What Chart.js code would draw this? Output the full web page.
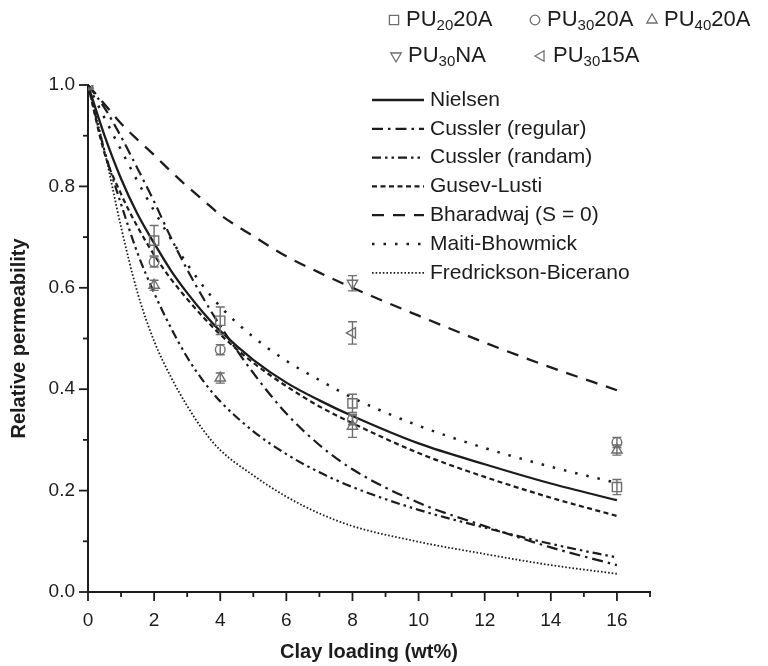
<!DOCTYPE html>
<html><head><meta charset="utf-8">
<script src="https://cdn.jsdelivr.net/npm/chart.js@4.4.1/dist/chart.umd.min.js"></script>
<style>html,body{margin:0;padding:0;background:#fff;}#wrap{width:768px;height:666px;position:relative;}</style>
</head><body><div id="wrap"><canvas id="c" width="768" height="666"></canvas></div>
<script>
// ---- data ----
const modelX      = [0, 0.5, 1, 1.5, 2, 2.5, 3, 3.5, 4, 5, 6, 7, 8, 10, 12, 14, 16];
const nielsen     = [1, 0.900, 0.815, 0.745, 0.688, 0.635, 0.590, 0.550, 0.515, 0.458, 0.413, 0.378, 0.347, 0.293, 0.252, 0.214, 0.181];
const cusslerReg  = [1, 0.955, 0.898, 0.835, 0.770, 0.700, 0.636, 0.578, 0.525, 0.432, 0.352, 0.290, 0.242, 0.176, 0.130, 0.088, 0.053];
const cusslerRand = [1, 0.870, 0.765, 0.668, 0.590, 0.522, 0.463, 0.415, 0.376, 0.317, 0.272, 0.236, 0.207, 0.162, 0.127, 0.095, 0.068];
const gusevLusti  = [1, 0.865, 0.785, 0.720, 0.665, 0.618, 0.578, 0.541, 0.508, 0.452, 0.406, 0.366, 0.333, 0.274, 0.227, 0.186, 0.150];
const bharadwaj   = [1, 0.962, 0.924, 0.892, 0.862, 0.830, 0.800, 0.772, 0.744, 0.702, 0.662, 0.630, 0.600, 0.545, 0.492, 0.443, 0.398];
const maiti       = [1, 0.935, 0.872, 0.810, 0.752, 0.697, 0.647, 0.602, 0.563, 0.503, 0.456, 0.418, 0.383, 0.328, 0.284, 0.247, 0.215];
const fredrickson = [1, 0.870, 0.720, 0.590, 0.495, 0.425, 0.367, 0.318, 0.280, 0.230, 0.188, 0.155, 0.130, 0.099, 0.075, 0.053, 0.036];

const loadX   = [0, 2, 4, 8, 16];
const pu20    = [1, 0.693, 0.535, 0.372, 0.207];
const pu20Err = [0, 0.030, 0.027, 0.018, 0.015];
const pu30    = [1, 0.651, 0.478, 0.340, 0.295];
const pu30Err = [0, 0.010, 0.010, 0.010, 0.010];
const pu40    = [1, 0.605, 0.422, 0.327, 0.280];
const pu40Err = [0, 0.010, 0.010, 0.022, 0.010];
const naX = [8];  const pu30NA  = [0.609]; const pu30NAErr  = [0.015];
const a15X = [8]; const pu3015A = [0.511]; const pu3015AErr = [0.022];

const xTickValues = [0, 2, 4, 6, 8, 10, 12, 14, 16];
const yTickValues = [0.0, 0.2, 0.4, 0.6, 0.8, 1.0];

const curveLabels  = ['Nielsen', 'Cussler (regular)', 'Cussler (randam)', 'Gusev-Lusti', 'Bharadwaj (S = 0)', 'Maiti-Bhowmick', 'Fredrickson-Bicerano'];
const markerLabels = ['PU_{20}20A', 'PU_{30}20A', 'PU_{40}20A', 'PU_{30}NA', 'PU_{30}15A'];

// ---- styling ----
const FONT = "'Liberation Sans', Arial, Helvetica, sans-serif";
const INK = '#1c1c1c';
const MARK = '#6e6e6e';

function curve(label, ys, dash, width, cap) {
  return {type: 'line', label, data: modelX.map((x, i) => ({x, y: ys[i]})),
    borderColor: INK, borderWidth: width, borderDash: dash, borderCapStyle: cap || 'butt',
    pointRadius: 0, fill: false, cubicInterpolationMode: 'monotone', order: 2};
}
function markers(label, xs, ys, errs, style, rot, r) {
  return {type: 'scatter', label, data: xs.map((x, i) => ({x, y: ys[i]})), errs,
    pointStyle: style, rotation: rot, radius: r, pointRadius: r, pointHoverRadius: r,
    borderColor: MARK, pointBorderColor: MARK, borderWidth: 1.4, pointBorderWidth: 1.4,
    backgroundColor: 'rgba(255,255,255,0)', pointBackgroundColor: 'rgba(255,255,255,0)', order: 1};
}

const curveSets = [
  curve(curveLabels[0], nielsen, [], 2.3),
  curve(curveLabels[1], cusslerReg, [11, 5, 2.5, 5], 2.2),
  curve(curveLabels[2], cusslerRand, [9, 4, 2.5, 4, 2.5, 4], 2.2),
  curve(curveLabels[3], gusevLusti, [5, 3.5], 2.2),
  curve(curveLabels[4], bharadwaj, [12, 9], 2.3),
  curve(curveLabels[5], maiti, [2.5, 9], 2.5),
  curve(curveLabels[6], fredrickson, [1.6, 2], 1.8)
];
const markerSets = [
  markers(markerLabels[0], loadX, pu20, pu20Err, 'rect', 0, 6.5),
  markers(markerLabels[1], loadX, pu30, pu30Err, 'circle', 0, 4.8),
  markers(markerLabels[2], loadX, pu40, pu40Err, 'triangle', 0, 6),
  markers(markerLabels[3], naX, pu30NA, pu30NAErr, 'triangle', 180, 6),
  markers(markerLabels[4], a15X, pu3015A, pu3015AErr, 'triangle', -90, 6)
];

function drawMarker(ctx, style, rot, x, y, r) {
  ctx.beginPath();
  if (style === 'circle') { ctx.arc(x, y, r, 0, Math.PI * 2); }
  else if (style === 'rect') { const s = r * Math.SQRT1_2; ctx.rect(x - s, y - s, 2 * s, 2 * s); }
  else {
    let rad = rot * Math.PI / 180;
    for (let k = 0; k < 3; k++) {
      const px = x + Math.sin(rad) * r, py = y - Math.cos(rad) * r;
      k ? ctx.lineTo(px, py) : ctx.moveTo(px, py);
      rad += 2 * Math.PI / 3;
    }
    ctx.closePath();
  }
  ctx.stroke();
}

function drawRich(ctx, text, x, y, size, subSize) {
  const parts = text.split(/(_\{[^}]*\})/).filter(Boolean);
  let cx = x;
  for (const p of parts) {
    const sub = p.startsWith('_{');
    const t = sub ? p.slice(2, -1) : p;
    ctx.font = (sub ? subSize : size) + 'px ' + FONT;
    ctx.fillText(t, cx, sub ? y + 6 : y);
    cx += ctx.measureText(t).width;
  }
}

const tickPlugin = {
  id: 'ticksMarks',
  afterDraw(chart) {
    const ctx = chart.ctx, xs = chart.scales.x, ys = chart.scales.y;
    const x0 = xs.getPixelForValue(0), yb = ys.getPixelForValue(0);
    ctx.save();
    ctx.strokeStyle = INK; ctx.lineWidth = 1.8;
    for (let v = 0; v <= 17; v++) {
      const px = xs.getPixelForValue(v);
      const len = (xTickValues.includes(v)) ? 9 : 5;
      ctx.beginPath(); ctx.moveTo(px, yb); ctx.lineTo(px, yb + len); ctx.stroke();
    }
    for (let k = 0; k <= 10; k++) {
      const py = ys.getPixelForValue(k / 10);
      const len = (k % 2 === 0) ? 9 : 5;
      ctx.beginPath(); ctx.moveTo(x0 - len, py); ctx.lineTo(x0, py); ctx.stroke();
    }
    ctx.restore();
  }
};

const errorPlugin = {
  id: 'errorBars',
  afterDatasetsDraw(chart) {
    const ctx = chart.ctx, xs = chart.scales.x, ys = chart.scales.y;
    ctx.save();
    ctx.strokeStyle = MARK; ctx.lineWidth = 1.4;
    chart.data.datasets.forEach(ds => {
      if (!ds.errs) return;
      ds.data.forEach((p, i) => {
        const e = ds.errs[i];
        if (!e) return;
        const px = xs.getPixelForValue(p.x);
        const yt = ys.getPixelForValue(p.y + e), ybt = ys.getPixelForValue(p.y - e);
        ctx.beginPath();
        ctx.moveTo(px, yt); ctx.lineTo(px, ybt);
        ctx.moveTo(px - 4.5, yt); ctx.lineTo(px + 4.5, yt);
        ctx.moveTo(px - 4.5, ybt); ctx.lineTo(px + 4.5, ybt);
        ctx.stroke();
      });
    });
    ctx.restore();
  }
};

const legendPlugin = {
  id: 'customLegend',
  afterDraw(chart) {
    const ctx = chart.ctx;
    ctx.save();
    ctx.textBaseline = 'middle'; ctx.textAlign = 'left'; ctx.fillStyle = INK;
    // marker legend
    const mpos = [[394, 20], [535, 20], [652, 20], [396, 56], [541, 56]];
    markerSets.forEach((ds, i) => {
      const [mx, my] = mpos[i];
      ctx.strokeStyle = MARK; ctx.lineWidth = 1.3;
      drawMarker(ctx, ds.pointStyle, ds.rotation, mx, my, ds.pointRadius);
      ctx.fillStyle = INK;
      drawRich(ctx, ds.label, mx + 12, my, 22, 15);
    });
    // line legend
    curveSets.forEach((ds, i) => {
      const y = 100 + i * 28.8;
      ctx.strokeStyle = INK; ctx.lineWidth = ds.borderWidth; ctx.setLineDash(ds.borderDash);
      ctx.lineCap = ds.borderCapStyle;
      ctx.beginPath(); ctx.moveTo(372, y); ctx.lineTo(424, y); ctx.stroke();
      ctx.setLineDash([]);
      ctx.font = '21px ' + FONT; ctx.fillStyle = INK;
      ctx.fillText(ds.label, 430, y);
    });
    ctx.restore();
  }
};

new Chart(document.getElementById('c'), {
  data: {datasets: [...markerSets, ...curveSets]},
  options: {
    responsive: false, animation: false, devicePixelRatio: 1,
    layout: {padding: {left: 0, right: 118, top: 85, bottom: 0}},
    plugins: {legend: {display: false}, tooltip: {enabled: false}},
    events: [],
    scales: {
      x: {
        type: 'linear', min: 0, max: 17,
        afterFit(s) { s.height = 74; },
        afterBuildTicks(s) { s.ticks = xTickValues.map(v => ({value: v})); },
        border: {display: true, color: INK, width: 2},
        grid: {display: true, drawOnChartArea: false, drawTicks: false, color: 'rgba(0,0,0,0)'},
        ticks: {color: INK, font: {family: FONT, size: 19}, padding: 17, maxRotation: 0, autoSkip: false,
          callback: v => String(v)},
        title: {display: true, text: 'Clay loading (wt%)', color: INK,
          font: {family: FONT, size: 20, weight: 'bold'}, padding: {top: 0, bottom: 2}}
      },
      y: {
        type: 'linear', min: 0, max: 1,
        afterFit(s) { s.width = 88; },
        afterBuildTicks(s) { s.ticks = yTickValues.map(v => ({value: v})); },
        border: {display: true, color: INK, width: 2},
        grid: {display: true, drawOnChartArea: false, drawTicks: false, color: 'rgba(0,0,0,0)'},
        ticks: {color: INK, font: {family: FONT, size: 19}, padding: 13, autoSkip: false,
          callback: v => Number(v).toFixed(1)},
        title: {display: true, text: 'Relative permeability', color: INK,
          font: {family: FONT, size: 20, weight: 'bold'}, padding: {top: 7, bottom: 0}}
      }
    }
  },
  plugins: [tickPlugin, errorPlugin, legendPlugin]
});
</script>
</body></html>
